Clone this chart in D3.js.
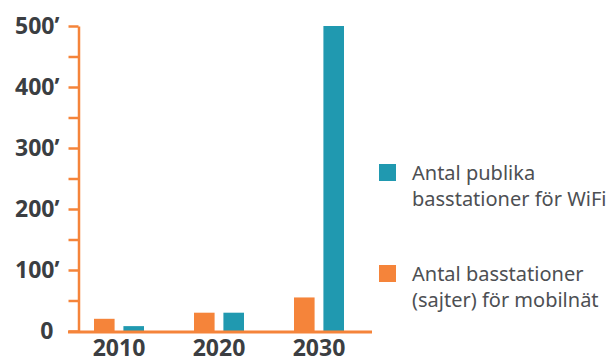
<!DOCTYPE html>
<html>
<head>
<meta charset="utf-8">
<script src="https://cdn.jsdelivr.net/npm/d3@7"></script>
<style>
  body { margin: 0; background: #fff; }
  svg { display: block; }
  .axis text { font-family: "Noto Sans", sans-serif; font-weight: 700; font-size: 23px; fill: #3b3e42; }
  .axis path, .axis line { stroke: #f5843a; }
  .leg { font-family: "Noto Sans", sans-serif; font-size: 20px; fill: #4d4f53; }
</style>
</head>
<body>
<div id="chart"></div>
<script>
const w = 608, h = 360

// data (thousands)
const years = ["2010", "2020", "2030"]
const series = ["mobil", "wifi"]
const mobil = [20, 30, 55]
const wifi = [8, 30, 500]
const yTicks = [0, 50, 100, 150, 200, 250, 300, 350, 400, 450, 500]
const legendLines = [
  ["Antal publika", "basstationer för WiFi"],
  ["Antal basstationer", "(sajter) för mobilnät"]
]
const legendKeys = ["wifi", "mobil"]

const colour = d3.scaleOrdinal()
  .domain(series)
  .range(["#f5843a", "#2099b0"])

const x = d3.scaleBand()
  .domain(years)
  .range([69, 369])
  .paddingInner(0.5)
  .paddingOuter(0.25)

const x1 = d3.scaleBand()
  .domain(series)
  .range([0, x.bandwidth()])
  .paddingInner(0.3)

const y = d3.scaleLinear()
  .domain([0, 500])
  .range([331, 26])

const svg = d3.select("#chart").append("svg")
  .attr("width", w)
  .attr("height", h)

const rows = years.map((yr, i) => ({year: yr, mobil: mobil[i], wifi: wifi[i]}))

// bars
svg.append("g")
  .selectAll("g")
  .data(rows)
  .join("g")
    .attr("transform", d => `translate(${x(d.year)},0)`)
  .selectAll("rect")
  .data(d => series.map(s => ({key: s, value: d[s]})))
  .join("rect")
    .attr("x", d => x1(d.key))
    .attr("width", x1.bandwidth())
    .attr("y", d => y(d.value))
    .attr("height", d => y(0) - y(d.value))
    .attr("fill", d => colour(d.key))

// y axis
const yAxis = svg.append("g")
  .attr("class", "axis")
  .attr("transform", "translate(78.5,0)")
  .call(d3.axisLeft(y)
    .tickValues(yTicks)
    .tickSize(10)
    .tickSizeOuter(0)
    .tickPadding(9)
    .tickFormat(d => d % 100 ? "" : (d ? d + "’" : "0")))
yAxis.selectAll("path, line").attr("stroke-width", 2.5)
yAxis.selectAll(".tick")
  .filter(d => d === 0)
  .select("text")
  .attr("dx", -6)

// x axis
const xAxis = svg.append("g")
  .attr("class", "axis")
  .attr("transform", `translate(0,${y(0) + 1})`)
  .call(d3.axisBottom(x).tickSize(0).tickPadding(8))
xAxis.select(".domain")
  .attr("d", "M68,0H372")
  .attr("stroke-width", 3)

// legend
const legend = svg.append("g")
  .selectAll("g")
  .data(legendKeys)
  .join("g")
    .attr("transform", (d, i) => `translate(379,${164 + i * 101})`)

legend.append("rect")
  .attr("width", 17)
  .attr("height", 17)
  .attr("fill", d => colour(d))

legend.append("text")
  .attr("class", "leg")
  .attr("x", 33)
  .attr("y", 16)
  .selectAll("tspan")
  .data((d, i) => legendLines[i])
  .join("tspan")
    .attr("x", 33)
    .attr("dy", (d, i) => i ? 26 : 0)
    .text(d => d)
</script>
</body>
</html>
